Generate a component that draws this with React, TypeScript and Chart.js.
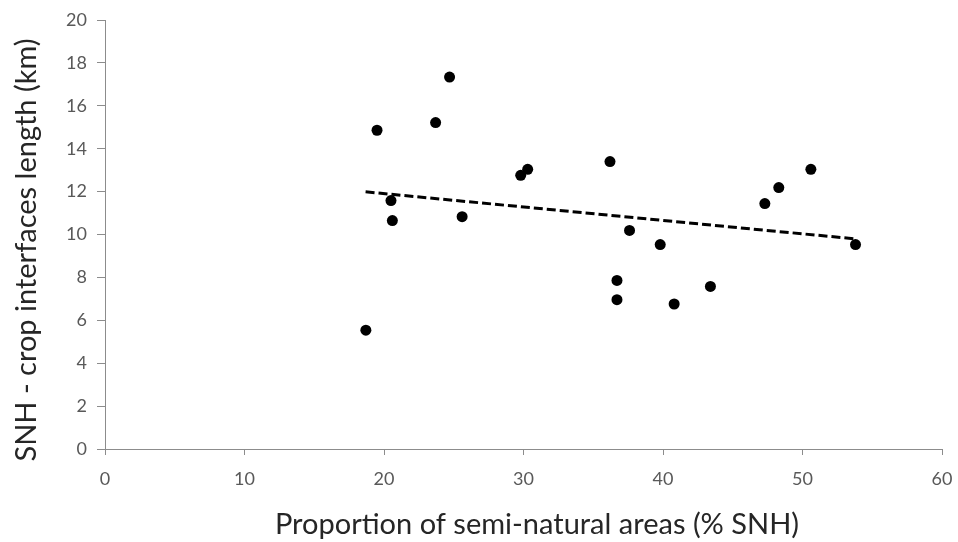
import React, { useEffect, useRef } from "react";
import { Chart, registerables } from "chart.js";

Chart.register(...registerables);

const snhPercent = [18.7, 19.5, 20.5, 20.6, 23.7, 24.7, 25.6, 29.8, 30.3, 36.2, 36.7, 36.7, 37.6, 39.8, 40.8, 43.4, 47.3, 48.3, 50.6, 53.8];
const interfaceKm = [5.54, 14.86, 11.58, 10.65, 15.22, 17.34, 10.83, 12.76, 13.04, 13.4, 7.86, 6.96, 10.19, 9.53, 6.76, 7.58, 11.44, 12.19, 13.04, 9.53];
const trendX = [18.68, 53.7];
const trendY = [11.99, 9.8];

const xTitle = "Proportion of semi-natural areas (% SNH)";
const yTitle = "SNH - crop interfaces length (km)";

const FONT = "Lato, 'Open Sans', sans-serif";

const titlePlugin = {
  id: "axisTitles",
  afterDraw(chart: any) {
    const ctx = chart.ctx;
    ctx.save();
    ctx.fillStyle = "#262626";
    ctx.font = `29px ${FONT}`;
    ctx.textAlign = "center";
    ctx.textBaseline = "middle";
    ctx.fillText(xTitle, 537, 525);
    ctx.translate(27, 250);
    ctx.rotate(-Math.PI / 2);
    ctx.fillText(yTitle, 0, 0);
    ctx.restore();
  },
};

export default function App() {
  const ref = useRef<HTMLCanvasElement>(null);
  useEffect(() => {
    document.body.style.margin = "0";
    const points = snhPercent.map((x, i) => ({ x, y: interfaceKm[i] }));
    const trend = trendX.map((x, i) => ({ x, y: trendY[i] }));
    const chart = new Chart(ref.current!, {
      type: "scatter",
      data: {
        datasets: [
          {
            type: "line",
            data: trend,
            borderColor: "#000",
            borderWidth: 3,
            borderDash: [9, 4],
            pointRadius: 0,
            fill: false,
          } as any,
          {
            data: points,
            backgroundColor: "#000",
            borderColor: "#000",
            pointRadius: 5.5,
            pointBorderWidth: 0,
          },
        ],
      },
      options: {
        animation: false,
        responsive: false,
        layout: { padding: { left: 0, right: 16, top: 20, bottom: 0 } },
        plugins: { legend: { display: false }, tooltip: { enabled: false } },
        scales: {
          x: {
            type: "linear",
            min: 0,
            max: 60,
            afterFit: (s: any) => {
              s.height = 93;
              s.paddingRight = 0;
              s.paddingLeft = 0;
            },
            ticks: { stepSize: 10, color: "#595959", font: { family: FONT, size: 18 }, padding: 13 },
            grid: { drawOnChartArea: false, drawTicks: true, tickLength: 6, color: "#8c8c8c" },
            border: { color: "#8c8c8c", width: 1 },
          },
          y: {
            type: "linear",
            min: 0,
            max: 20,
            afterFit: (s: any) => {
              s.width = 105;
              s.paddingTop = 0;
              s.paddingBottom = 0;
            },
            ticks: { stepSize: 2, color: "#595959", font: { family: FONT, size: 18 }, padding: 10 },
            grid: { drawOnChartArea: false, drawTicks: true, tickLength: 8, color: "#8c8c8c" },
            border: { color: "#8c8c8c", width: 1 },
          },
        },
      },
      plugins: [titlePlugin],
    });
    return () => chart.destroy();
  }, []);
  return (
    <div style={{ width: 958, height: 542, background: "#fff" }}>
      <canvas ref={ref} width={958} height={542} style={{ display: "block" }} />
    </div>
  );
}
